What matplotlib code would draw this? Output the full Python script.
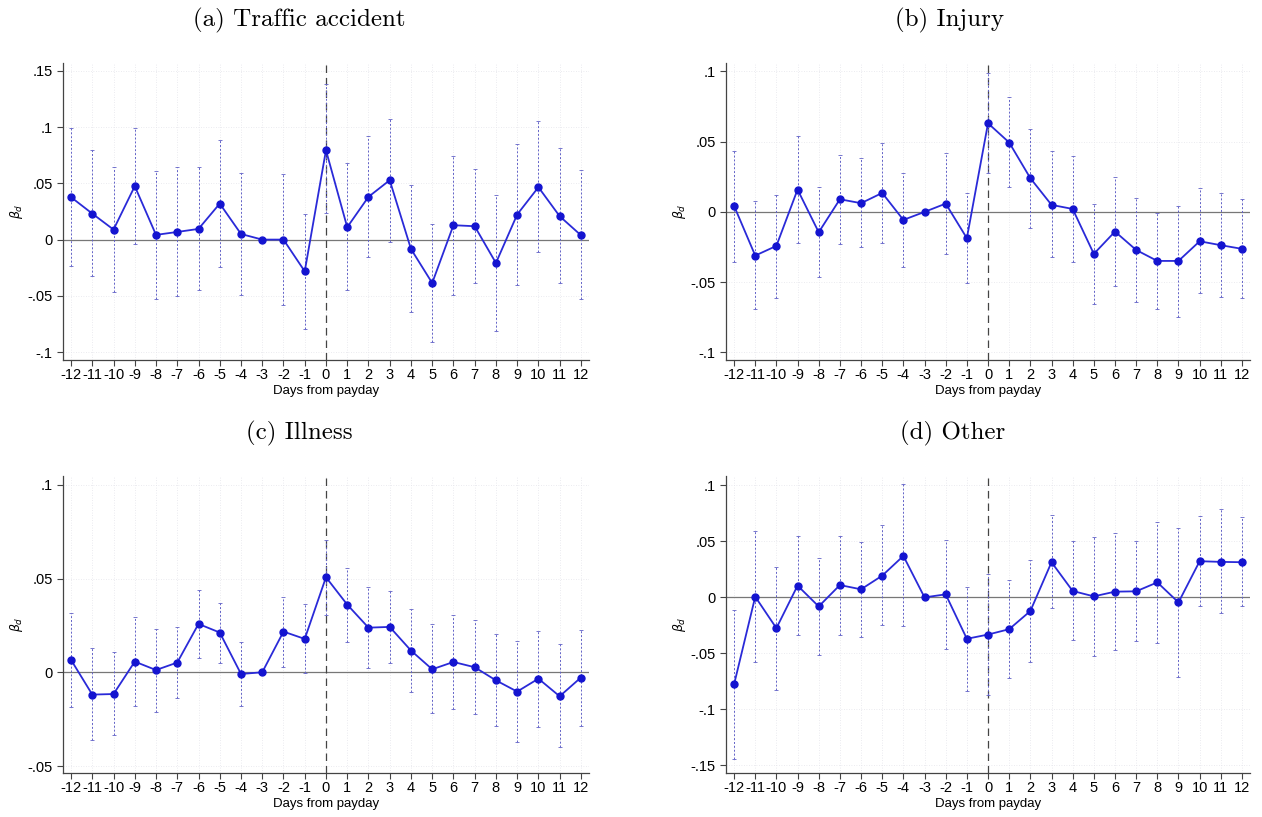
import numpy as np
import matplotlib
matplotlib.use("Agg")
import matplotlib.pyplot as plt
from matplotlib.ticker import FuncFormatter

days = list(range(-12, 13))

# (a) Traffic accident
coef_a = [0.0377, 0.0231, 0.0089, 0.0475, 0.0042, 0.0068, 0.0095, 0.032, 0.005, 0.0, 0.0, -0.0282,
          0.0795, 0.011, 0.038, 0.0528, -0.0083, -0.0386, 0.0128, 0.0119, -0.0208, 0.0223, 0.0466, 0.0208, 0.0039]
lo_a = [-0.0237, -0.0326, -0.0466, -0.0039, -0.0525, -0.0504, -0.0451, -0.0243, -0.0496, np.nan, -0.0579, -0.0795,
        0.024, -0.0445, -0.0154, -0.002, -0.064, -0.091, -0.049, -0.039, -0.0816, -0.0407, -0.011, -0.039, -0.0528]
hi_a = [0.0988, 0.0795, 0.0644, 0.0994, 0.0608, 0.0644, 0.0644, 0.0884, 0.0588, np.nan, 0.0579, 0.0231,
        0.138, 0.0677, 0.092, 0.107, 0.0484, 0.0142, 0.074, 0.063, 0.0395, 0.085, 0.105, 0.0816, 0.0617]

# (b) Injury
coef_b = [0.0043, -0.0311, -0.0242, 0.0159, -0.0145, 0.009, 0.0062, 0.0135, -0.0057, 0.0, 0.0059, -0.0187,
          0.0631, 0.0494, 0.024, 0.005, 0.0021, -0.0299, -0.014, -0.0271, -0.0349, -0.0349, -0.0209, -0.0237, -0.0263]
lo_b = [-0.0354, -0.0693, -0.0615, -0.0223, -0.0465, -0.023, -0.0252, -0.0223, -0.0389, np.nan, -0.0299, -0.0503,
        0.0275, 0.0176, -0.0112, -0.0323, -0.0354, -0.0655, -0.0524, -0.0638, -0.069, -0.0745, -0.0579, -0.0607, -0.061]
hi_b = [0.0437, 0.0078, 0.0121, 0.0543, 0.0176, 0.0406, 0.0384, 0.0494, 0.0278, np.nan, 0.0418, 0.0133,
        0.0987, 0.0816, 0.0591, 0.043, 0.0401, 0.0055, 0.0252, 0.0097, -0.0005, 0.0045, 0.0168, 0.0133, 0.009]

# (c) Illness
coef_c = [0.0066, -0.0119, -0.0116, 0.0057, 0.0012, 0.0052, 0.0258, 0.0212, -0.0009, 0.0, 0.0217, 0.0178,
          0.0507, 0.0361, 0.0238, 0.0242, 0.0116, 0.0016, 0.0055, 0.0027, -0.0043, -0.0103, -0.0034, -0.0128, -0.0028]
lo_c = [-0.0183, -0.0361, -0.0335, -0.018, -0.021, -0.0139, 0.0075, 0.0052, -0.0178, np.nan, 0.0027, -0.0005,
        0.0306, 0.0164, 0.0021, 0.0052, -0.0103, -0.0219, -0.0196, -0.0224, -0.0286, -0.037, -0.0294, -0.04, -0.0285]
hi_c = [0.0315, 0.0128, 0.0107, 0.0294, 0.023, 0.0244, 0.044, 0.0372, 0.0164, np.nan, 0.0399, 0.0365,
        0.0708, 0.0555, 0.0454, 0.0434, 0.0336, 0.0258, 0.0303, 0.0279, 0.0205, 0.0167, 0.0222, 0.0151, 0.0226]

# (d) Other
coef_d = [-0.0777, 0.0006, -0.0275, 0.0105, -0.0081, 0.011, 0.0072, 0.0194, 0.037, 0.0, 0.0027, -0.037,
          -0.0332, -0.0284, -0.0122, 0.0314, 0.0057, 0.0009, 0.0051, 0.0054, 0.0134, -0.0045, 0.0323, 0.0317, 0.0314]
lo_d = [-0.1446, -0.0573, -0.0827, -0.034, -0.0514, -0.0335, -0.0355, -0.0251, -0.026, np.nan, -0.046, -0.0833,
        -0.0875, -0.0723, -0.0573, -0.0096, -0.0379, -0.0523, -0.0469, -0.0391, -0.0409, -0.0708, -0.0075, -0.014, -0.0075]
hi_d = [-0.0116, 0.0597, 0.0272, 0.0547, 0.0352, 0.0547, 0.0496, 0.0645, 0.101, np.nan, 0.0508, 0.009,
        0.0209, 0.0158, 0.0338, 0.0732, 0.0499, 0.0538, 0.0576, 0.0502, 0.0672, 0.0621, 0.0726, 0.0786, 0.0717]

titles = ["(a) Traffic accident", "(b) Injury", "(c) Illness", "(d) Other"]
yticks_list = [[-0.1, -0.05, 0, 0.05, 0.1, 0.15],
               [-0.1, -0.05, 0, 0.05, 0.1],
               [-0.05, 0, 0.05, 0.1],
               [-0.15, -0.1, -0.05, 0, 0.05, 0.1]]
ylims = [(-0.107, 0.157), (-0.1054, 0.106), (-0.0537, 0.1047), (-0.1568, 0.1084)]


def stata_fmt(v, pos):
    if abs(v) < 1e-9:
        return "0"
    s = ("%g" % v)
    return s.replace("0.", ".")


fig = plt.figure(figsize=(12.62, 8.17), dpi=100)
plt.rcParams['font.family'] = ['Liberation Sans', 'DejaVu Sans']

positions = [[0.0499, 0.5594, 0.4168, 0.3635],
             [0.5753, 0.5594, 0.4152, 0.3635],
             [0.0499, 0.0539, 0.4168, 0.3635],
             [0.5753, 0.0539, 0.4152, 0.3635]]
# subfigure caption centres (figure fraction)
title_xy = [(0.2375, 0.9755), (0.7525, 0.9755), (0.2375, 0.4700), (0.7550, 0.4700)]

data = [(coef_a, lo_a, hi_a), (coef_b, lo_b, hi_b), (coef_c, lo_c, hi_c), (coef_d, lo_d, hi_d)]

for i in range(4):
    ax = fig.add_axes(positions[i])
    coef, lo, hi = data[i]
    lo = np.array(lo)
    hi = np.array(hi)

    ax.set_xlim(-12.38, 12.38)
    ax.set_ylim(*ylims[i])

    # faint grid
    for d in days:
        ax.axvline(d, color='#e4e4ea', lw=0.6, ls=(0, (1, 2)), zorder=0)
    for yv in yticks_list[i]:
        ax.axhline(yv, color='#e4e4ea', lw=0.6, ls=(0, (1, 2)), zorder=0)

    ax.axhline(0, color='#777777', lw=0.9, zorder=1)
    ax.axvline(0, color='#444444', lw=0.9, ls=(0, (6, 4)), zorder=1)

    # confidence intervals
    ax.vlines(days, lo, hi, colors='#6262c8', linestyles=(0, (2, 2)), lw=0.7, zorder=2)
    ax.plot(days, lo, ls='none', marker='_', ms=3, mew=0.6, color='#6262c8', zorder=2)
    ax.plot(days, hi, ls='none', marker='_', ms=3, mew=0.6, color='#6262c8', zorder=2)

    ax.plot(days, coef, color='#2a2ad8', lw=1.3, marker='o', ms=5,
            mfc='#1414d0', mec='#1414d0', zorder=3)

    ax.set_xticks(days)
    ax.set_xticklabels([str(d) for d in days])
    ax.set_yticks(yticks_list[i])
    ax.yaxis.set_major_formatter(FuncFormatter(stata_fmt))
    ax.tick_params(axis='both', labelsize=10.5, color='#444444', length=4, width=0.8)
    ax.tick_params(axis='x', pad=2)

    for s in ['top', 'right']:
        ax.spines[s].set_visible(False)
    for s in ['left', 'bottom']:
        ax.spines[s].set_color('#444444')
        ax.spines[s].set_linewidth(0.9)

    ax.set_xlabel("Days from payday", fontsize=9.5, labelpad=2)
    ax.set_ylabel(r"$\beta_d$", fontsize=9, labelpad=2)

    fig.text(title_xy[i][0], title_xy[i][1], titles[i], fontsize=18, family='cmr10',
             ha='center', va='center')

fig.savefig("out.png", dpi=100)
